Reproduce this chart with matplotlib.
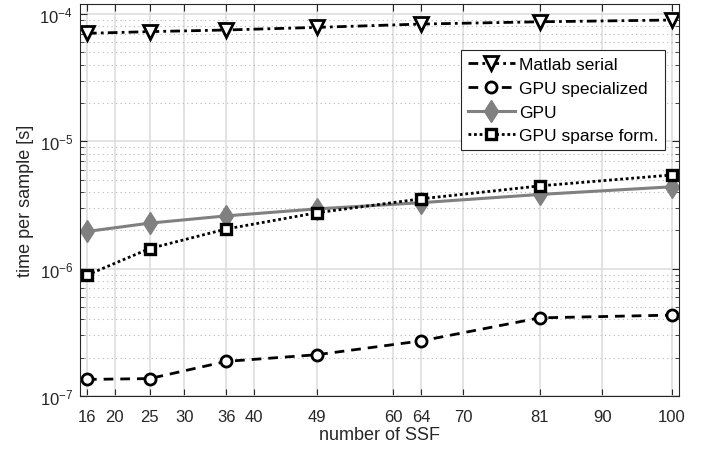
import matplotlib
matplotlib.use("Agg")
import matplotlib.pyplot as plt
from matplotlib.ticker import LogLocator, NullFormatter

plt.rcParams["font.family"] = ["Liberation Sans", "DejaVu Sans"]
plt.rcParams["mathtext.fontset"] = "custom"
plt.rcParams["mathtext.rm"] = "Liberation Sans"
plt.rcParams["mathtext.default"] = "regular"

# number of SSF
n_ssf = [16, 25, 36, 49, 64, 81, 100]
x_ticks = [16, 20, 25, 30, 36, 40, 49, 60, 64, 70, 81, 90, 100]

# time per sample [s]
matlab_serial = [7.06e-5, 7.28e-5, 7.5e-5, 7.86e-5, 8.35e-5, 8.7e-5, 8.98e-5]
gpu_specialized = [1.35e-7, 1.37e-7, 1.87e-7, 2.11e-7, 2.71e-7, 4.11e-7, 4.32e-7]
gpu = [1.96e-6, 2.28e-6, 2.6e-6, 2.95e-6, 3.3e-6, 3.83e-6, 4.4e-6]
gpu_sparse = [8.9e-7, 1.44e-6, 2.05e-6, 2.75e-6, 3.54e-6, 4.47e-6, 5.45e-6]

dark = "#262626"

fig = plt.figure(figsize=(7.08, 4.56), dpi=100)
ax = fig.add_axes([80 / 708, 59 / 456, 599 / 708, 392 / 456])

ax.plot(n_ssf, matlab_serial, color="black", lw=2, ls=(0, (3.5, 1.5, 1, 1.5)),
        marker="v", ms=9.5, mfc="white", mec="black", mew=2,
        label="Matlab serial")
ax.plot(n_ssf, gpu_specialized, color="black", lw=2, ls=(0, (3.5, 2.5)),
        marker="o", ms=8, mfc="white", mec="black", mew=2,
        label="GPU specialized")
ax.plot(n_ssf, gpu, color="#808080", lw=2.2, ls="-",
        marker="d", ms=11.5, mfc="#808080", mec="#808080",
        label="GPU")
ax.plot(n_ssf, gpu_sparse, color="black", lw=2, ls=(0, (1, 1)),
        marker="s", ms=6.5, mfc="white", mec="black", mew=2.4,
        label="GPU sparse form.")

ax.set_yscale("log")
ax.set_xlim(15, 101)
ax.set_ylim(1e-7, 1.2e-4)
ax.set_xticks(x_ticks)
ax.set_xticklabels([str(v) for v in x_ticks])
ax.yaxis.set_major_locator(LogLocator(base=10, numticks=10))
ax.yaxis.set_minor_locator(LogLocator(base=10, subs=range(2, 10), numticks=50))
ax.yaxis.set_minor_formatter(NullFormatter())

ax.grid(True, which="major", color="#dedede", lw=1.2, ls="-")
ax.grid(True, which="minor", axis="y", color="#b8b8b8", lw=0.8, ls=(0, (1, 3)))
ax.set_axisbelow(True)

ax.tick_params(which="both", direction="in", top=True, right=True,
               colors=dark, labelcolor=dark, labelsize=12)
ax.tick_params(which="major", length=5, width=0.8)
ax.tick_params(which="minor", length=3, width=0.6)
ax.tick_params(axis="x", pad=9.5)
ax.tick_params(axis="y", pad=5)
for sp in ax.spines.values():
    sp.set_color(dark)
    sp.set_linewidth(0.8)

ax.set_xlabel("number of SSF", fontsize=13, color=dark, labelpad=1)
ax.set_ylabel("time per sample [s]", fontsize=13, color=dark, labelpad=4)

leg = ax.legend(loc="upper right", bbox_to_anchor=(0.977, 0.883),
                borderaxespad=0, fontsize=12.5, fancybox=False,
                framealpha=1, edgecolor=dark, handlelength=2.7,
                handletextpad=0.25, labelspacing=0.5, borderpad=0.4)
leg.get_frame().set_linewidth(0.8)

fig.savefig("out.png", dpi=100)
